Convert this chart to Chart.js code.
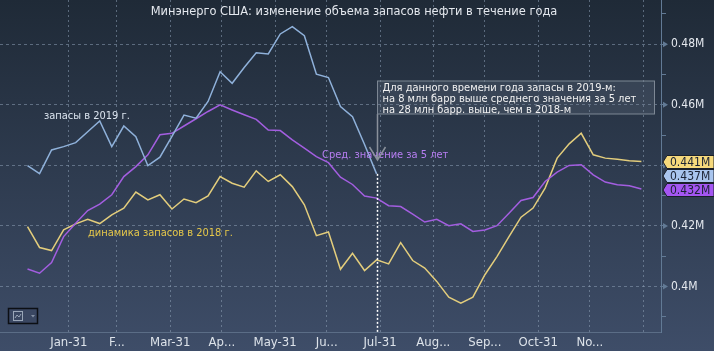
<!DOCTYPE html>
<html>
<head>
<meta charset="utf-8">
<script src="https://cdn.jsdelivr.net/npm/chart.js@4/dist/chart.umd.min.js"></script>
<style>
  html, body { margin: 0; padding: 0; background: #2c3848; }
  #wrap { width: 714px; height: 351px; }
</style>
</head>
<body>
<div id="wrap"><canvas id="chart" width="714" height="351"></canvas></div>
<script>
// weekly points, day of year of each report
const weekDays = [7,14,21,28,35,42,49,56,63,70,77,84,91,98,105,112,119,126,133,140,147,154,161,168,175,182,189,196,203,210,217,224,231,238,245,252,259,266,273,280,287,294,301,308,315,322,329,336,343,350,357,364];

// crude stocks, thousand barrels
const stocks2019 = [439.9,437.3,445.1,446.2,447.5,451.1,454.7,446.2,453.0,449.5,439.9,442.7,449.6,456.6,455.6,461.1,470.9,467.1,472.3,477.2,476.8,483.4,485.8,482.8,470.1,469.0,459.4,456.1,446.9,437.2];
const stocks2018 = [419.8,412.9,411.9,418.7,420.7,422.2,420.8,423.7,425.9,431.2,428.6,430.3,425.6,428.9,427.7,429.9,436.3,434.1,432.8,438.2,434.7,436.9,433.0,427.0,416.8,418.0,405.7,411.0,405.3,408.8,407.5,414.5,408.6,406.1,401.7,396.5,394.5,396.5,403.9,409.9,416.5,422.9,425.9,432.5,442.4,447.1,450.6,443.5,442.4,442.0,441.5,441.3];
const avg5y = [405.8,404.4,407.9,416.5,420.9,425.1,427.2,430.3,436.3,439.6,443.5,450.1,450.6,453.0,455.4,457.8,460.0,458.3,456.7,455.2,451.7,451.5,448.4,445.7,442.9,440.9,436.1,433.7,429.9,429.2,426.7,426.4,423.9,421.3,422.2,420.1,420.7,418.2,418.7,420.1,424.2,428.4,429.4,434.7,437.8,440.0,440.2,436.9,434.5,433.6,433.3,432.2];

const monthTickDays = [31,59,90,120,151,181,212,243,273,304,334,365];
const monthTickLabels = ['Jan-31','F...','Mar-31','Ap...','May-31','Ju...','Jul-31','Aug...','Sep...','Oct-31','No...',''];
const yTickValues = [390,400,410,420,430,440,450,460,470,480,490];
const yLabelValues = [400,420,440,460,480];

const titleText = 'Минэнерго США: изменение объема запасов нефти в течение года';
const noteLines = [
  'Для данного времени года запасы в 2019-м:',
  'на 8 млн барр выше среднего значения за 5 лет',
  'на 28 млн барр. выше, чем в 2018-м'
];

const FONT = '"DejaVu Sans Condensed", "DejaVu Sans", sans-serif';
const BLUE = '#8fb1da';
const PURPLE = '#a35ee0';
const YELLOW = '#e3cd7c';
const GRID = 'rgba(140,158,180,0.55)';
const AXIS = '#627a95';

const fmtM = v => String(+(v / 1000).toFixed(2)) + 'M';

const decor = {
  id: 'decor',
  beforeDraw(chart) {
    const {ctx, width, height} = chart;
    const g = ctx.createLinearGradient(0, 0, 0, height);
    g.addColorStop(0, '#1f2a37');
    g.addColorStop(1, '#3e4d68');
    ctx.save();
    ctx.fillStyle = g;
    ctx.fillRect(0, 0, width, height);
    ctx.restore();
  },
  afterDatasetsDraw(chart) {
    const {ctx, chartArea} = chart;
    ctx.save();

    // series labels
    ctx.font = '11px ' + FONT;
    ctx.textBaseline = 'middle';
    ctx.fillStyle = '#dbe4ef';
    ctx.fillText('запасы в 2019 г.', 44, 116);
    ctx.fillStyle = '#e6c84a';
    ctx.fillText('динамика запасов в 2018 г.', 88, 233);
    ctx.fillStyle = '#b77ef2';
    ctx.fillText('Сред. значение за 5 лет', 322, 155);

    // annotation at last 2019 point
    const meta = chart.getDatasetMeta(0);
    const last = meta.data[meta.data.length - 1];
    const px = Math.round(last.x) + 0.5;
    ctx.strokeStyle = '#ffffff';
    ctx.lineWidth = 1.5;
    ctx.setLineDash([2, 2]);
    ctx.beginPath();
    ctx.moveTo(px, last.y);
    ctx.lineTo(px, chartArea.bottom);
    ctx.stroke();
    ctx.setLineDash([]);

    const bx = px, by = 81, bw = 277, bh = 33;
    ctx.strokeStyle = '#8a919b';
    ctx.lineWidth = 1.5;
    ctx.beginPath();
    ctx.moveTo(px, by + bh);
    ctx.lineTo(px, 160);
    ctx.moveTo(px - 8, 147);
    ctx.lineTo(px, 160);
    ctx.lineTo(px + 8, 147);
    ctx.stroke();

    ctx.fillStyle = 'rgba(120,132,148,0.22)';
    ctx.fillRect(bx, by, bw, bh);
    ctx.strokeStyle = '#7d8794';
    ctx.lineWidth = 1;
    ctx.strokeRect(bx, by, bw, bh);
    ctx.fillStyle = '#f2f2f2';
    ctx.font = '11px ' + FONT;
    noteLines.forEach((t, i) => ctx.fillText(t, bx + 5, 88 + i * 11));

    ctx.restore();
  },
  afterDraw(chart) {
    const {ctx, chartArea} = chart;
    const y = chart.scales.y;
    ctx.save();

    // title
    ctx.font = '12.7px ' + FONT;
    ctx.fillStyle = '#e4e8ee';
    ctx.textAlign = 'center';
    ctx.textBaseline = 'middle';
    ctx.fillText(titleText, 354, 12);
    ctx.textAlign = 'left';

    // arrow markers on major ticks
    ctx.fillStyle = AXIS;
    yLabelValues.forEach(v => {
      const ty = y.getPixelForValue(v);
      ctx.beginPath();
      ctx.moveTo(chartArea.right + 2, ty - 3);
      ctx.lineTo(chartArea.right + 7, ty);
      ctx.lineTo(chartArea.right + 2, ty + 3);
      ctx.closePath();
      ctx.fill();
    });

    // last value tags
    const tags = [
      {v: stocks2018[stocks2018.length - 1], fill: '#f6d97c'},
      {v: stocks2019[stocks2019.length - 1], fill: '#a9c5ee'},
      {v: avg5y[avg5y.length - 1], fill: '#a456f2'}
    ].map(t => ({...t, y: y.getPixelForValue(t.v)}))
     .sort((a, b) => a.y - b.y);
    for (let i = 1; i < tags.length; i++) {
      if (tags[i].y - tags[i - 1].y < 14) tags[i].y = tags[i - 1].y + 14;
    }
    const x0 = chartArea.right + 2;
    tags.forEach(t => {
      const h = 13, top = Math.round(t.y - h / 2) + 0.5;
      ctx.beginPath();
      ctx.moveTo(x0, top + h / 2);
      ctx.lineTo(x0 + 4, top);
      ctx.lineTo(714, top);
      ctx.lineTo(714, top + h);
      ctx.lineTo(x0 + 4, top + h);
      ctx.closePath();
      ctx.fillStyle = t.fill;
      ctx.fill();
      ctx.strokeStyle = '#1a1f2a';
      ctx.lineWidth = 1;
      ctx.stroke();
      ctx.fillStyle = '#1b2233';
      ctx.font = '12px ' + FONT;
      ctx.textBaseline = 'middle';
      ctx.fillText((t.v / 1000).toFixed(3) + 'M', x0 + 7, top + h / 2 + 0.5);
    });

    // chart type button bottom-left
    ctx.fillStyle = '#3a4762';
    ctx.fillRect(8.5, 308.5, 29, 15);
    ctx.strokeStyle = '#0c0f14';
    ctx.lineWidth = 1.5;
    ctx.strokeRect(8.5, 308.5, 29, 15);
    ctx.strokeStyle = '#9aa6b8';
    ctx.lineWidth = 1;
    ctx.strokeRect(13.5, 311.5, 9, 9);
    ctx.beginPath();
    ctx.moveTo(15, 318); ctx.lineTo(17, 315); ctx.lineTo(19, 317); ctx.lineTo(21, 314);
    ctx.stroke();
    ctx.fillStyle = '#8591a4';
    ctx.beginPath();
    ctx.moveTo(31, 315); ctx.lineTo(35, 315); ctx.lineTo(33, 317.5);
    ctx.closePath();
    ctx.fill();

    ctx.restore();
  }
};

const lineDs = (label, data, color) => ({
  label, data,
  borderColor: color,
  borderWidth: 1.5,
  pointRadius: 0,
  tension: 0,
  fill: false
});

new Chart(document.getElementById('chart'), {
  type: 'line',
  data: {
    labels: weekDays,
    datasets: [
      lineDs('запасы в 2019 г.', stocks2019, BLUE),
      lineDs('Сред. значение за 5 лет', avg5y, PURPLE),
      lineDs('динамика запасов в 2018 г.', stocks2018, YELLOW)
    ]
  },
  options: {
    responsive: false,
    animation: false,
    layout: { padding: 0 },
    plugins: { legend: { display: false }, tooltip: { enabled: false } },
    scales: {
      x: {
        type: 'linear',
        min: -9,
        max: 375.4,
        afterBuildTicks: s => { s.ticks = monthTickDays.map(v => ({value: v})); },
        afterFit: s => { s.height = 19; s.paddingLeft = 0; s.paddingRight = 0; },
        ticks: {
          autoSkip: false,
          maxRotation: 0,
          padding: 3,
          color: '#dde3ea',
          font: { family: FONT, size: 13 },
          callback: (v, i) => monthTickLabels[i]
        },
        grid: { color: GRID, drawTicks: false },
        border: { color: '#5b6d86', dash: [2, 3] }
      },
      y: {
        position: 'right',
        min: 385,
        max: 494.6,
        afterBuildTicks: s => { s.ticks = yTickValues.map(v => ({value: v})); },
        afterFit: s => { s.width = 53; s.paddingTop = 0; s.paddingBottom = 0; },
        ticks: {
          autoSkip: false,
          padding: 5,
          color: '#e4e8ee',
          font: { family: FONT, size: 12 },
          callback: v => yLabelValues.includes(v) ? fmtM(v) : ''
        },
        grid: {
          color: c => (c.tick && yLabelValues.includes(c.tick.value)) ? GRID : 'rgba(0,0,0,0)',
          tickColor: AXIS,
          tickLength: 5
        },
        border: { color: AXIS, dash: [3, 3] }
      }
    }
  },
  plugins: [decor]
});
</script>
</body>
</html>
